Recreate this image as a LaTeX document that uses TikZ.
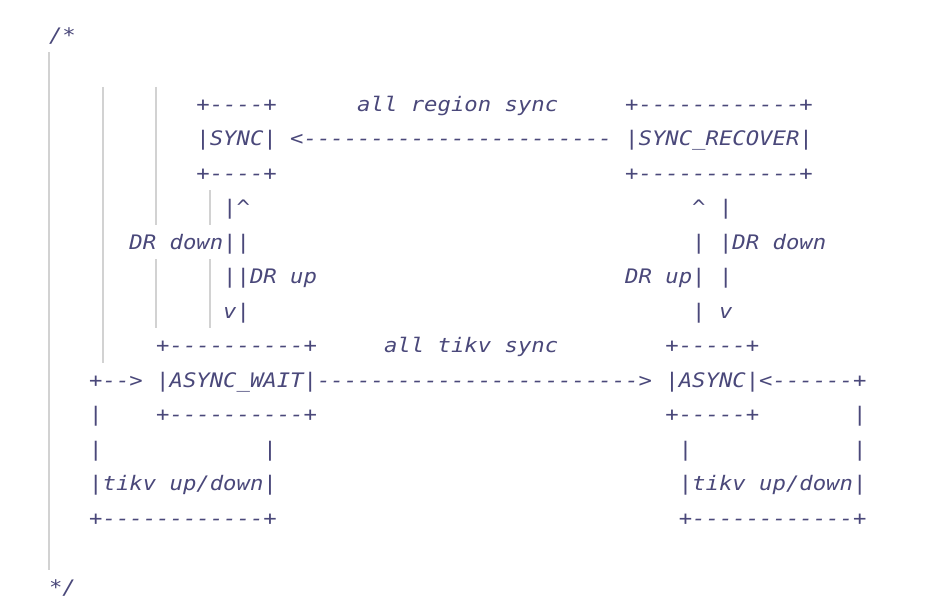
\documentclass[tikz,border=0pt]{standalone}
\usepackage{fontspec}
\setmonofont{DejaVu Sans Mono}[ItalicFont={DejaVu Sans Mono Oblique}, FakeStretch=1.113]
\usepackage{xcolor}
\definecolor{codeink}{RGB}{74,72,122}
\definecolor{guidegray}{RGB}{210,210,210}

\begin{document}
\begin{tikzpicture}[
	x=13.4pt, y=-34.5pt,
	% one column = one character, one row = one line
	code_text/.style={
		anchor=base west,
		inner sep=0pt,
		outer sep=0pt,
		text=codeink,
		font=\fontsize{20}{24}\selectfont\ttfamily\itshape
	},
	indent_guide/.style={
		draw=guidegray,
		line width=1.8pt
	}
	]
	\useasboundingbox (-49pt,42.3pt) rectangle (900pt,-569.7pt);
	
	% --- 0. INDENT GUIDES ---
	\draw[indent_guide] (0,0.29) -- (0,15.29);
	\draw[indent_guide] (4,1.29) -- (4,9.29);
	\draw[indent_guide] (8,1.29) -- (8,5.29);
	\draw[indent_guide] (8,6.29) -- (8,8.29);
	\draw[indent_guide] (12,4.29) -- (12,5.29);
	\draw[indent_guide] (12,6.29) -- (12,8.29);
	
	\node[code_text] (open) at (0,0) {/*};
	
	% --- 1. SYNC <- SYNC_RECOVER ---
	\node[code_text] (sync_top) at (11,2) {+----+};
	\node[code_text] (region_label) at (23,2) {all region sync};
	\node[code_text] (recover_top) at (43,2) {+------------+};
	\node[code_text] (sync) at (11,3) {|SYNC|};
	\node[code_text] (region_arrow) at (18,3) {<-----------------------};
	\node[code_text] (recover) at (43,3) {|SYNC\_RECOVER|};
	\node[code_text] (sync_bot) at (11,4) {+----+};
	\node[code_text] (recover_bot) at (43,4) {+------------+};
	
	% --- 2. DR up / DR down ---
	\node[code_text] (left_dr_a) at (13,5) {|\textasciicircum};
	\node[code_text] (right_up_tip) at (48,5) {\textasciicircum};
	\node[code_text] (right_down_a) at (50,5) {|};
	\node[code_text] (left_dr_down) at (6,6) {DR down||};
	\node[code_text] (right_up_a) at (48,6) {|};
	\node[code_text] (right_dr_down) at (50,6) {|DR down};
	\node[code_text] (left_dr_up) at (13,7) {||DR up};
	\node[code_text] (right_dr_up) at (43,7) {DR up|};
	\node[code_text] (right_down_b) at (50,7) {|};
	\node[code_text] (left_dr_b) at (13,8) {v|};
	\node[code_text] (right_up_b) at (48,8) {|};
	\node[code_text] (right_down_tip) at (50,8) {v};
	
	% --- 3. ASYNC_WAIT -> ASYNC ---
	\node[code_text] (wait_top) at (8,9) {+----------+};
	\node[code_text] (tikv_label) at (25,9) {all tikv sync};
	\node[code_text] (async_top) at (46,9) {+-----+};
	\node[code_text] (loop_in) at (3,10) {+-->};
	\node[code_text] (wait) at (8,10) {|ASYNC\_WAIT|};
	\node[code_text] (tikv_arrow) at (20,10) {------------------------>};
	\node[code_text] (async) at (46,10) {|ASYNC|};
	\node[code_text] (async_loop) at (53,10) {<------+};
	\node[code_text] (wait_bot) at (8,11) {+----------+};
	\node[code_text] (async_bot) at (46,11) {+-----+};
	
	% --- 4. tikv up/down loops ---
	\node[code_text] (loop_l_a) at (3,11) {|};
	\node[code_text] (loop_r_a) at (60,11) {|};
	\node[code_text] (loop_l_b) at (3,12) {|};
	\node[code_text] (loop_l_c) at (16,12) {|};
	\node[code_text] (loop_r_b) at (47,12) {|};
	\node[code_text] (loop_r_c) at (60,12) {|};
	\node[code_text] (loop_l_label) at (3,13) {|tikv up/down|};
	\node[code_text] (loop_r_label) at (47,13) {|tikv up/down|};
	\node[code_text] (loop_l_bot) at (3,14) {+------------+};
	\node[code_text] (loop_r_bot) at (47,14) {+------------+};
	
	\node[code_text] (close) at (0,16) {*/};
	
\end{tikzpicture}
\end{document}
